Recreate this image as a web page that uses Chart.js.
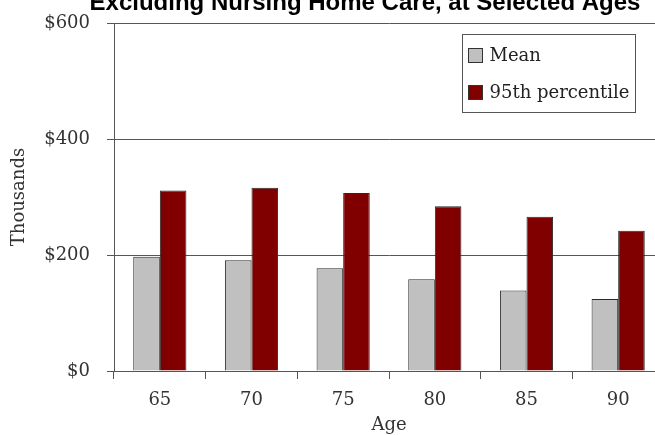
<!DOCTYPE html>
<html>
<head>
<meta charset="utf-8">
<script src="https://cdn.jsdelivr.net/npm/chart.js@4/dist/chart.umd.min.js"></script>
<style>
  html, body { margin: 0; padding: 0; width: 655px; height: 435px; overflow: hidden; background: #fff; }
  #wrap { position: absolute; left: 0; top: 0; width: 700px; height: 448px; }
</style>
</head>
<body>
<div id="wrap"><canvas id="chart" width="700" height="448"></canvas></div>
<script>
// Lifetime cost by age (thousands of dollars)
const ages = ['65', '70', '75', '80', '85', '90'];
const meanCost = [197, 191, 177, 158, 139, 124];
const p95Cost = [311, 316, 307, 284, 266, 242];
const yTickValues = [0, 200, 400, 600];
const chartTitle = 'Excluding Nursing Home Care, at Selected Ages';
const seriesNames = ['Mean', '95th percentile'];

const serif = 'DejaVu Serif';
const textColor = '#333';

// Title drawn across the top edge of the figure
const topTitle = {
  id: 'topTitle',
  afterDraw(chart) {
    const ctx = chart.ctx;
    ctx.save();
    ctx.font = 'bold 24px "Liberation Sans", Arial, sans-serif';
    ctx.fillStyle = '#000';
    ctx.textAlign = 'center';
    ctx.textBaseline = 'alphabetic';
    ctx.fillText(chartTitle, 365, 10);
    ctx.restore();
  }
};

// Boxed legend sitting inside the plot area, upper right
const boxLegend = {
  id: 'boxLegend',
  afterDraw(chart) {
    const { ctx, chartArea } = chart;
    const x0 = chartArea.left + 348.5, y0 = chartArea.top + 11.5;
    const w = 173, h = 78;
    ctx.save();
    ctx.fillStyle = '#fff';
    ctx.fillRect(x0, y0, w, h);
    ctx.strokeStyle = '#555';
    ctx.lineWidth = 1;
    ctx.strokeRect(x0, y0, w, h);
    ctx.font = '18px "' + serif + '"';
    ctx.textBaseline = 'middle';
    ctx.textAlign = 'left';
    const rows = [14, 51];
    chart.data.datasets.forEach((ds, i) => {
      const sy = y0 + rows[i];
      ctx.fillStyle = ds.backgroundColor;
      ctx.fillRect(x0 + 6, sy, 14, 14);
      ctx.strokeStyle = '#333';
      ctx.strokeRect(x0 + 6, sy, 14, 14);
      ctx.fillStyle = '#222';
      ctx.fillText(ds.label, x0 + 27, sy + 8);
    });
    ctx.restore();
  }
};

new Chart(document.getElementById('chart'), {
  type: 'bar',
  data: {
    labels: ages,
    datasets: [
      {
        label: seriesNames[0],
        data: meanCost,
        backgroundColor: '#C0C0C0',
        borderColor: '#2a2a2a',
        borderWidth: 1
      },
      {
        label: seriesNames[1],
        data: p95Cost,
        backgroundColor: '#800000',
        borderColor: '#2a2a2a',
        borderWidth: 1
      }
    ]
  },
  options: {
    responsive: false,
    animation: false,
    devicePixelRatio: 1,
    layout: { padding: { top: 23, right: 36, left: 0, bottom: 0 } },
    datasets: {
      bar: { categoryPercentage: 0.58, barPercentage: 1.0 }
    },
    plugins: {
      legend: { display: false },
      title: { display: false },
      tooltip: { enabled: false }
    },
    scales: {
      x: {
        grid: { drawOnChartArea: false, drawTicks: true, tickLength: 8, color: '#555', offset: true },
        border: { color: '#555', width: 1 },
        ticks: { font: { family: serif, size: 18 }, color: textColor, padding: 11 },
        title: {
          display: true, text: 'Age',
          font: { family: serif, size: 18 }, color: textColor,
          padding: { top: 0, bottom: 11.5 }
        },
        afterFit(scale) { scale.height = 77; }
      },
      y: {
        min: 0,
        max: 600,
        afterBuildTicks(scale) { scale.ticks = yTickValues.map(v => ({ value: v })); },
        ticks: {
          font: { family: serif, size: 18 }, color: textColor, padding: 17,
          callback: v => '$' + v
        },
        grid: { color: '#555', lineWidth: 1, tickLength: 7 },
        border: { color: '#555', width: 1 },
        title: {
          display: true, text: 'Thousands',
          font: { family: serif, size: 18 }, color: textColor,
          padding: { top: 9, bottom: 0 }
        },
        afterFit(scale) {
          scale.width = 114;
          scale.paddingTop = 0;
          scale.paddingBottom = 0;
        }
      }
    }
  },
  plugins: [topTitle, boxLegend]
});
</script>
</body>
</html>
